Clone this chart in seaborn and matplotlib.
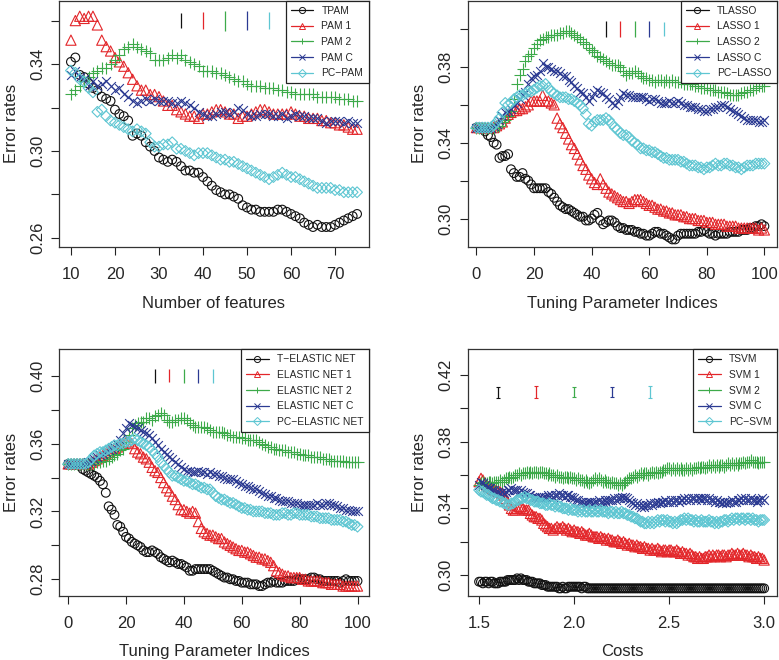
import numpy as np
import pandas as pd
import matplotlib
matplotlib.use('Agg')
import matplotlib.pyplot as plt
from matplotlib.lines import Line2D
import seaborn as sns

sns.set_theme(style='ticks')
plt.rcParams['font.family'] = ['Liberation Sans', 'DejaVu Sans']

COLORS = ['#111111', '#E3262A', '#3DAA4A', '#2B3A92', '#5EC6D2']
MARKERS = ['o', '^', '+', 'x', 'D']
MSIZE = [40, 54, 72, 40, 30]
OPEN = [True, True, False, False, True]

# ---------------- panel 1: PAM ----------------
pam_x = list(range(10, 76))
tpam = [0.341, 0.343, 0.335, 0.334, 0.331, 0.329, 0.328, 0.325, 0.324, 0.323,
        0.319, 0.317, 0.316, 0.314, 0.307, 0.308, 0.307, 0.304, 0.302, 0.300,
        0.297, 0.296, 0.295, 0.296, 0.295, 0.293, 0.291, 0.291, 0.290, 0.290,
        0.288, 0.286, 0.284, 0.282, 0.281, 0.280, 0.280, 0.279, 0.278, 0.275,
        0.274, 0.273, 0.273, 0.272, 0.272, 0.272, 0.272, 0.273, 0.273, 0.272,
        0.271, 0.270, 0.269, 0.267, 0.266, 0.265, 0.266, 0.265, 0.265, 0.265,
        0.266, 0.267, 0.268, 0.269, 0.270, 0.271]
pam1 = [0.351, 0.360, 0.362, 0.361, 0.362, 0.362, 0.358, 0.351, 0.348, 0.346,
        0.343, 0.341, 0.339, 0.336, 0.333, 0.330, 0.328, 0.328, 0.326, 0.326,
        0.325, 0.323, 0.321, 0.321, 0.319, 0.318, 0.317, 0.316, 0.316, 0.315,
        0.317, 0.317, 0.318, 0.319, 0.319, 0.318, 0.317, 0.317, 0.315, 0.316,
        0.316, 0.317, 0.318, 0.319, 0.319, 0.318, 0.317, 0.317, 0.317, 0.317,
        0.318, 0.317, 0.316, 0.316, 0.315, 0.315, 0.315, 0.314, 0.314, 0.313,
        0.313, 0.312, 0.312, 0.311, 0.310, 0.310]
pam2 = [0.326, 0.328, 0.330, 0.332, 0.334, 0.336, 0.337, 0.338, 0.338, 0.340,
        0.342, 0.344, 0.347, 0.348, 0.349, 0.348, 0.347, 0.346, 0.345, 0.342,
        0.342, 0.342, 0.343, 0.344, 0.343, 0.344, 0.342, 0.341, 0.340, 0.339,
        0.337, 0.337, 0.337, 0.336, 0.336, 0.335, 0.334, 0.333, 0.332, 0.332,
        0.331, 0.330, 0.330, 0.330, 0.329, 0.329, 0.329, 0.328, 0.328, 0.327,
        0.327, 0.326, 0.326, 0.326, 0.326, 0.326, 0.325, 0.325, 0.325, 0.325,
        0.325, 0.324, 0.324, 0.324, 0.323, 0.323]
pamc = [0.335, 0.337, 0.334, 0.333, 0.330, 0.332, 0.330, 0.331, 0.332, 0.330,
        0.328, 0.329, 0.326, 0.325, 0.323, 0.322, 0.323, 0.324, 0.323, 0.324,
        0.323, 0.323, 0.323, 0.322, 0.322, 0.323, 0.322, 0.321, 0.320, 0.318,
        0.317, 0.316, 0.316, 0.317, 0.318, 0.318, 0.317, 0.318, 0.320, 0.319,
        0.317, 0.316, 0.316, 0.317, 0.317, 0.317, 0.316, 0.316, 0.317, 0.315,
        0.316, 0.317, 0.316, 0.316, 0.315, 0.315, 0.315, 0.314, 0.313, 0.314,
        0.314, 0.314, 0.313, 0.314, 0.313, 0.313]
pcpam = [0.337, 0.336, 0.333, 0.332, 0.329, 0.327, 0.318, 0.319, 0.316, 0.314,
         0.313, 0.312, 0.311, 0.310, 0.309, 0.310, 0.309, 0.308, 0.304, 0.302,
         0.302, 0.303, 0.303, 0.304, 0.301, 0.301, 0.300, 0.299, 0.298, 0.299,
         0.299, 0.299, 0.298, 0.297, 0.296, 0.296, 0.295, 0.295, 0.294, 0.293,
         0.292, 0.291, 0.290, 0.289, 0.288, 0.287, 0.288, 0.289, 0.290, 0.289,
         0.288, 0.288, 0.287, 0.286, 0.285, 0.284, 0.283, 0.283, 0.283, 0.283,
         0.282, 0.282, 0.281, 0.281, 0.281, 0.281]
pam_labels = ['TPAM', 'PAM 1', 'PAM 2', 'PAM C', 'PC\u2212PAM']
pam_eb_x = [35, 40, 45, 50, 55]
pam_eb_y = [0.360, 0.360, 0.360, 0.360, 0.360]
pam_eb_half = [0.0036, 0.0040, 0.0046, 0.0042, 0.0038]

# ---------------- panel 2: LASSO ----------------
idx = list(range(0, 101))
tlasso = [0.348, 0.348, 0.348, 0.346, 0.344, 0.343, 0.340, 0.339, 0.332, 0.333,
          0.333, 0.334, 0.326, 0.324, 0.322, 0.322, 0.324, 0.321, 0.320, 0.318,
          0.316, 0.316, 0.316, 0.316, 0.316, 0.314, 0.313, 0.311, 0.309, 0.307,
          0.306, 0.305, 0.305, 0.304, 0.303, 0.302, 0.301, 0.301, 0.299, 0.299,
          0.300, 0.302, 0.303, 0.299, 0.297, 0.298, 0.299, 0.299, 0.298, 0.296,
          0.295, 0.295, 0.294, 0.294, 0.294, 0.293, 0.293, 0.292, 0.292, 0.291,
          0.291, 0.292, 0.293, 0.293, 0.292, 0.292, 0.291, 0.290, 0.289, 0.289,
          0.291, 0.292, 0.292, 0.292, 0.292, 0.292, 0.292, 0.293, 0.293, 0.294,
          0.293, 0.292, 0.292, 0.291, 0.292, 0.292, 0.292, 0.292, 0.293, 0.293,
          0.293, 0.293, 0.294, 0.294, 0.294, 0.295, 0.295, 0.296, 0.296, 0.297,
          0.296]
lasso1 = [0.348, 0.348, 0.348, 0.348, 0.348, 0.348, 0.348, 0.349, 0.350, 0.351,
          0.353, 0.355, 0.356, 0.357, 0.357, 0.358, 0.358, 0.359, 0.360, 0.362,
          0.362, 0.362, 0.362, 0.365, 0.362, 0.362, 0.361, 0.360, 0.353, 0.350,
          0.348, 0.345, 0.342, 0.339, 0.337, 0.334, 0.331, 0.328, 0.326, 0.323,
          0.321, 0.319, 0.318, 0.321, 0.318, 0.316, 0.314, 0.313, 0.312, 0.311,
          0.310, 0.309, 0.309, 0.308, 0.309, 0.310, 0.310, 0.310, 0.309, 0.308,
          0.307, 0.307, 0.306, 0.305, 0.305, 0.304, 0.304, 0.303, 0.303, 0.302,
          0.302, 0.302, 0.301, 0.301, 0.300, 0.300, 0.300, 0.299, 0.299, 0.299,
          0.298, 0.298, 0.298, 0.297, 0.297, 0.297, 0.297, 0.296, 0.296, 0.296,
          0.296, 0.295, 0.295, 0.295, 0.295, 0.295, 0.295, 0.295, 0.294, 0.295,
          0.294]
lasso2 = [0.348, 0.348, 0.348, 0.348, 0.348, 0.348, 0.348, 0.349, 0.349, 0.351,
          0.352, 0.354, 0.357, 0.363, 0.371, 0.376, 0.379, 0.383, 0.386, 0.387,
          0.390, 0.392, 0.394, 0.395, 0.396, 0.396, 0.397, 0.397, 0.397, 0.398,
          0.398, 0.399, 0.399, 0.398, 0.397, 0.396, 0.395, 0.393, 0.392, 0.390,
          0.389, 0.388, 0.386, 0.385, 0.384, 0.383, 0.382, 0.381, 0.381, 0.381,
          0.380, 0.378, 0.376, 0.377, 0.377, 0.378, 0.377, 0.375, 0.374, 0.374,
          0.373, 0.373, 0.372, 0.373, 0.373, 0.372, 0.373, 0.372, 0.373, 0.372,
          0.372, 0.372, 0.371, 0.371, 0.371, 0.371, 0.370, 0.370, 0.369, 0.369,
          0.369, 0.368, 0.368, 0.368, 0.367, 0.367, 0.367, 0.366, 0.365, 0.365,
          0.365, 0.365, 0.366, 0.367, 0.367, 0.368, 0.368, 0.369, 0.370, 0.370,
          0.370]
lassoc = [0.348, 0.348, 0.348, 0.348, 0.348, 0.348, 0.349, 0.350, 0.352, 0.354,
          0.356, 0.357, 0.358, 0.360, 0.361, 0.363, 0.365, 0.367, 0.371, 0.374,
          0.375, 0.376, 0.378, 0.382, 0.380, 0.380, 0.379, 0.378, 0.378, 0.377,
          0.375, 0.375, 0.373, 0.372, 0.370, 0.369, 0.367, 0.366, 0.364, 0.362,
          0.364, 0.366, 0.368, 0.367, 0.366, 0.364, 0.363, 0.361, 0.360, 0.362,
          0.364, 0.366, 0.365, 0.365, 0.364, 0.364, 0.364, 0.364, 0.364, 0.363,
          0.362, 0.363, 0.363, 0.362, 0.361, 0.361, 0.361, 0.362, 0.361, 0.361,
          0.362, 0.361, 0.360, 0.360, 0.359, 0.359, 0.359, 0.358, 0.358, 0.357,
          0.357, 0.358, 0.358, 0.359, 0.359, 0.360, 0.360, 0.359, 0.358, 0.357,
          0.356, 0.355, 0.354, 0.353, 0.352, 0.352, 0.352, 0.352, 0.351, 0.351,
          0.352]
pclasso = [0.348, 0.348, 0.348, 0.348, 0.348, 0.348, 0.349, 0.351, 0.353, 0.356,
           0.361, 0.360, 0.361, 0.363, 0.364, 0.365, 0.365, 0.366, 0.367, 0.367,
           0.368, 0.369, 0.370, 0.370, 0.371, 0.369, 0.367, 0.366, 0.365, 0.364,
           0.364, 0.364, 0.363, 0.363, 0.362, 0.361, 0.360, 0.358, 0.355, 0.350,
           0.349, 0.351, 0.352, 0.352, 0.352, 0.353, 0.352, 0.350, 0.348, 0.347,
           0.345, 0.344, 0.344, 0.343, 0.341, 0.340, 0.339, 0.337, 0.337, 0.336,
           0.336, 0.335, 0.335, 0.334, 0.333, 0.332, 0.332, 0.331, 0.331, 0.331,
           0.331, 0.330, 0.330, 0.329, 0.328, 0.328, 0.328, 0.327, 0.327, 0.326,
           0.327, 0.327, 0.328, 0.329, 0.328, 0.328, 0.329, 0.329, 0.328, 0.328,
           0.327, 0.327, 0.326, 0.327, 0.328, 0.328, 0.328, 0.329, 0.329, 0.329,
           0.329]
lasso_labels = ['TLASSO', 'LASSO 1', 'LASSO 2', 'LASSO C', 'PC\u2212LASSO']
lasso_eb_x = [45, 50, 55, 60, 65]
lasso_eb_y = [0.400, 0.400, 0.400, 0.400, 0.400]
lasso_eb_half = [0.0040, 0.0040, 0.0044, 0.0044, 0.0038]

# ---------------- panel 3: ELASTIC NET ----------------
ten = [0.348, 0.348, 0.348, 0.348, 0.347, 0.345, 0.344, 0.343, 0.342, 0.341,
       0.340, 0.338, 0.336, 0.331, 0.323, 0.321, 0.318, 0.312, 0.311, 0.308,
       0.305, 0.304, 0.302, 0.301, 0.300, 0.299, 0.297, 0.296, 0.296, 0.297,
       0.296, 0.295, 0.293, 0.292, 0.291, 0.290, 0.291, 0.290, 0.289, 0.289,
       0.288, 0.287, 0.285, 0.285, 0.286, 0.286, 0.286, 0.286, 0.286, 0.286,
       0.285, 0.284, 0.283, 0.282, 0.281, 0.281, 0.280, 0.280, 0.279, 0.279,
       0.278, 0.278, 0.278, 0.277, 0.277, 0.277, 0.276, 0.276, 0.277, 0.278,
       0.278, 0.279, 0.278, 0.278, 0.278, 0.279, 0.279, 0.279, 0.279, 0.280,
       0.280, 0.280, 0.280, 0.280, 0.281, 0.281, 0.280, 0.280, 0.279, 0.279,
       0.279, 0.279, 0.279, 0.279, 0.278, 0.279, 0.280, 0.279, 0.279, 0.279,
       0.279]
en1 = [0.348, 0.348, 0.348, 0.348, 0.348, 0.348, 0.348, 0.348, 0.349, 0.350,
       0.351, 0.352, 0.353, 0.354, 0.355, 0.356, 0.357, 0.358, 0.359, 0.360,
       0.361, 0.361, 0.360, 0.357, 0.355, 0.354, 0.352, 0.351, 0.349, 0.346,
       0.344, 0.343, 0.340, 0.337, 0.334, 0.332, 0.329, 0.327, 0.324, 0.321,
       0.321, 0.320, 0.319, 0.320, 0.319, 0.314, 0.310, 0.308, 0.307, 0.306,
       0.306, 0.305, 0.304, 0.304, 0.302, 0.301, 0.300, 0.299, 0.298, 0.297,
       0.297, 0.296, 0.296, 0.295, 0.294, 0.293, 0.293, 0.292, 0.292, 0.291,
       0.290, 0.288, 0.285, 0.284, 0.283, 0.282, 0.282, 0.281, 0.281, 0.281,
       0.281, 0.280, 0.280, 0.279, 0.279, 0.279, 0.279, 0.279, 0.278, 0.278,
       0.278, 0.277, 0.277, 0.277, 0.277, 0.276, 0.276, 0.276, 0.276, 0.276,
       0.276]
en2 = [0.348, 0.348, 0.348, 0.348, 0.348, 0.348, 0.348, 0.348, 0.348, 0.348,
       0.349, 0.349, 0.350, 0.350, 0.351, 0.352, 0.353, 0.354, 0.356, 0.357,
       0.361, 0.365, 0.369, 0.371, 0.372, 0.373, 0.373, 0.375, 0.375, 0.374,
       0.376, 0.377, 0.378, 0.377, 0.374, 0.373, 0.373, 0.374, 0.374, 0.375,
       0.375, 0.374, 0.372, 0.371, 0.370, 0.370, 0.370, 0.370, 0.369, 0.368,
       0.367, 0.367, 0.367, 0.367, 0.366, 0.365, 0.365, 0.364, 0.364, 0.364,
       0.363, 0.363, 0.362, 0.362, 0.362, 0.362, 0.361, 0.360, 0.359, 0.358,
       0.358, 0.357, 0.357, 0.356, 0.356, 0.356, 0.355, 0.355, 0.355, 0.354,
       0.354, 0.353, 0.353, 0.353, 0.352, 0.352, 0.352, 0.352, 0.351, 0.351,
       0.351, 0.350, 0.350, 0.350, 0.350, 0.350, 0.349, 0.349, 0.349, 0.349,
       0.349]
enc = [0.348, 0.348, 0.348, 0.348, 0.348, 0.348, 0.348, 0.349, 0.350, 0.351,
       0.352, 0.353, 0.354, 0.355, 0.356, 0.357, 0.358, 0.360, 0.362, 0.366,
       0.369, 0.372, 0.371, 0.370, 0.369, 0.368, 0.367, 0.366, 0.365, 0.363,
       0.361, 0.359, 0.357, 0.355, 0.354, 0.352, 0.351, 0.349, 0.348, 0.346,
       0.345, 0.344, 0.344, 0.343, 0.343, 0.344, 0.343, 0.343, 0.342, 0.343,
       0.342, 0.342, 0.341, 0.341, 0.340, 0.339, 0.339, 0.339, 0.338, 0.337,
       0.336, 0.335, 0.335, 0.334, 0.333, 0.333, 0.332, 0.331, 0.330, 0.329,
       0.329, 0.328, 0.328, 0.327, 0.326, 0.326, 0.326, 0.325, 0.325, 0.325,
       0.324, 0.324, 0.324, 0.324, 0.324, 0.324, 0.325, 0.324, 0.324, 0.325,
       0.325, 0.324, 0.324, 0.323, 0.322, 0.322, 0.321, 0.321, 0.320, 0.320,
       0.320]
pcen = [0.348, 0.348, 0.348, 0.348, 0.348, 0.348, 0.348, 0.349, 0.351, 0.353,
        0.354, 0.355, 0.355, 0.356, 0.357, 0.358, 0.359, 0.359, 0.360, 0.360,
        0.361, 0.361, 0.362, 0.363, 0.362, 0.361, 0.360, 0.359, 0.358, 0.356,
        0.354, 0.352, 0.349, 0.347, 0.345, 0.343, 0.341, 0.341, 0.340, 0.339,
        0.338, 0.338, 0.337, 0.336, 0.336, 0.335, 0.334, 0.334, 0.333, 0.333,
        0.331, 0.329, 0.328, 0.327, 0.327, 0.326, 0.325, 0.325, 0.324, 0.323,
        0.322, 0.322, 0.321, 0.321, 0.320, 0.320, 0.320, 0.320, 0.319, 0.319,
        0.319, 0.318, 0.318, 0.318, 0.319, 0.319, 0.318, 0.318, 0.319, 0.319,
        0.318, 0.318, 0.318, 0.318, 0.317, 0.317, 0.317, 0.316, 0.316, 0.316,
        0.316, 0.315, 0.315, 0.315, 0.315, 0.314, 0.314, 0.313, 0.312, 0.312,
        0.311]
en_labels = ['T\u2212ELASTIC NET', 'ELASTIC NET 1', 'ELASTIC NET 2',
             'ELASTIC NET C', 'PC\u2212ELASTIC NET']
en_eb_x = [30, 35, 40, 45, 50]
en_eb_y = [0.400, 0.400, 0.400, 0.400, 0.400]
en_eb_half = [0.0040, 0.0038, 0.0042, 0.0040, 0.0040]

# ---------------- panel 4: SVM ----------------
costs = [c / 100 for c in range(150, 301)]
tsvm = [0.296, 0.296, 0.295, 0.296, 0.296, 0.295, 0.296, 0.296, 0.295, 0.295,
        0.295, 0.296, 0.296, 0.296, 0.296, 0.297, 0.297, 0.297, 0.297, 0.297,
        0.298, 0.297, 0.298, 0.297, 0.297, 0.297, 0.296, 0.296, 0.296, 0.295,
        0.295, 0.295, 0.295, 0.294, 0.294, 0.294, 0.293, 0.293, 0.293, 0.293,
        0.293, 0.293, 0.292, 0.292, 0.293, 0.292, 0.292, 0.293, 0.293, 0.293,
        0.293, 0.293, 0.293, 0.293, 0.292, 0.293, 0.293, 0.292, 0.292, 0.292,
        0.292, 0.292, 0.292, 0.292, 0.292, 0.292, 0.292, 0.292, 0.292, 0.292,
        0.292, 0.292, 0.292, 0.292, 0.292, 0.292, 0.292, 0.292, 0.292, 0.292,
        0.292, 0.292, 0.292, 0.292, 0.292, 0.292, 0.292, 0.292, 0.292, 0.292,
        0.292, 0.292, 0.292, 0.292, 0.292, 0.292, 0.292, 0.292, 0.292, 0.292,
        0.292, 0.292, 0.292, 0.292, 0.292, 0.292, 0.292, 0.292, 0.292, 0.292,
        0.292, 0.292, 0.292, 0.292, 0.292, 0.292, 0.292, 0.292, 0.292, 0.292,
        0.292, 0.292, 0.292, 0.292, 0.292, 0.292, 0.292, 0.292, 0.292, 0.292,
        0.292, 0.292, 0.292, 0.292, 0.292, 0.292, 0.292, 0.292, 0.292, 0.292,
        0.292, 0.292, 0.292, 0.292, 0.292, 0.292, 0.292, 0.292, 0.292, 0.292,
        0.292]
svm1 = [0.356, 0.358, 0.357, 0.355, 0.354, 0.353, 0.353, 0.352, 0.351, 0.351,
        0.350, 0.350, 0.349, 0.348, 0.346, 0.344, 0.342, 0.340, 0.339, 0.339,
        0.340, 0.341, 0.341, 0.340, 0.339, 0.339, 0.339, 0.337, 0.336, 0.335,
        0.335, 0.334, 0.334, 0.333, 0.331, 0.330, 0.329, 0.328, 0.328, 0.327,
        0.328, 0.329, 0.328, 0.328, 0.329, 0.328, 0.327, 0.328, 0.327, 0.326,
        0.327, 0.326, 0.326, 0.325, 0.326, 0.325, 0.324, 0.324, 0.325, 0.324,
        0.323, 0.323, 0.323, 0.322, 0.323, 0.322, 0.322, 0.321, 0.322, 0.321,
        0.321, 0.320, 0.320, 0.321, 0.320, 0.319, 0.320, 0.319, 0.318, 0.319,
        0.318, 0.318, 0.317, 0.318, 0.317, 0.317, 0.316, 0.317, 0.316, 0.316,
        0.315, 0.316, 0.315, 0.315, 0.316, 0.315, 0.314, 0.315, 0.315, 0.314,
        0.315, 0.315, 0.314, 0.314, 0.315, 0.314, 0.313, 0.314, 0.313, 0.313,
        0.312, 0.313, 0.312, 0.311, 0.311, 0.310, 0.311, 0.310, 0.310, 0.311,
        0.311, 0.312, 0.311, 0.312, 0.311, 0.312, 0.312, 0.311, 0.312, 0.312,
        0.311, 0.312, 0.312, 0.313, 0.312, 0.312, 0.313, 0.312, 0.312, 0.313,
        0.312, 0.312, 0.311, 0.312, 0.311, 0.311, 0.310, 0.311, 0.310, 0.310,
        0.309]
svm2 = [0.354, 0.355, 0.356, 0.355, 0.355, 0.356, 0.356, 0.355, 0.356, 0.356,
        0.356, 0.357, 0.356, 0.357, 0.358, 0.358, 0.359, 0.358, 0.359, 0.360,
        0.360, 0.361, 0.360, 0.361, 0.361, 0.362, 0.361, 0.362, 0.361, 0.362,
        0.362, 0.361, 0.362, 0.362, 0.361, 0.361, 0.360, 0.361, 0.360, 0.360,
        0.359, 0.360, 0.359, 0.359, 0.358, 0.359, 0.359, 0.358, 0.359, 0.358,
        0.358, 0.357, 0.358, 0.357, 0.357, 0.356, 0.357, 0.356, 0.355, 0.356,
        0.357, 0.358, 0.357, 0.358, 0.357, 0.356, 0.357, 0.356, 0.356, 0.355,
        0.356, 0.355, 0.355, 0.354, 0.355, 0.354, 0.355, 0.356, 0.357, 0.358,
        0.358, 0.359, 0.360, 0.359, 0.360, 0.361, 0.360, 0.361, 0.361, 0.360,
        0.361, 0.362, 0.361, 0.362, 0.361, 0.362, 0.362, 0.363, 0.363, 0.364,
        0.364, 0.363, 0.364, 0.363, 0.364, 0.363, 0.364, 0.363, 0.363, 0.364,
        0.363, 0.364, 0.363, 0.364, 0.364, 0.365, 0.364, 0.365, 0.365, 0.364,
        0.365, 0.366, 0.365, 0.366, 0.365, 0.366, 0.365, 0.366, 0.366, 0.365,
        0.366, 0.367, 0.366, 0.367, 0.366, 0.367, 0.366, 0.367, 0.367, 0.368,
        0.367, 0.368, 0.368, 0.369, 0.368, 0.368, 0.368, 0.367, 0.368, 0.368,
        0.368]
svmc = [0.354, 0.356, 0.355, 0.354, 0.353, 0.352, 0.352, 0.351, 0.351, 0.350,
        0.350, 0.349, 0.350, 0.349, 0.350, 0.351, 0.351, 0.352, 0.351, 0.351,
        0.351, 0.350, 0.351, 0.350, 0.349, 0.349, 0.348, 0.348, 0.347, 0.347,
        0.347, 0.346, 0.347, 0.346, 0.347, 0.347, 0.348, 0.347, 0.348, 0.347,
        0.348, 0.348, 0.349, 0.348, 0.348, 0.347, 0.348, 0.348, 0.347, 0.347,
        0.346, 0.345, 0.345, 0.344, 0.344, 0.343, 0.344, 0.343, 0.344, 0.344,
        0.343, 0.344, 0.344, 0.345, 0.344, 0.344, 0.345, 0.344, 0.345, 0.345,
        0.345, 0.346, 0.345, 0.346, 0.346, 0.347, 0.346, 0.347, 0.346, 0.345,
        0.344, 0.343, 0.342, 0.343, 0.342, 0.341, 0.342, 0.341, 0.342, 0.342,
        0.343, 0.342, 0.343, 0.343, 0.344, 0.343, 0.344, 0.344, 0.345, 0.344,
        0.344, 0.345, 0.344, 0.345, 0.345, 0.344, 0.345, 0.345, 0.346, 0.345,
        0.346, 0.345, 0.346, 0.346, 0.345, 0.346, 0.346, 0.345, 0.346, 0.346,
        0.345, 0.346, 0.345, 0.345, 0.344, 0.345, 0.344, 0.344, 0.343, 0.344,
        0.343, 0.344, 0.344, 0.345, 0.344, 0.344, 0.345, 0.345, 0.346, 0.345,
        0.346, 0.345, 0.345, 0.346, 0.345, 0.345, 0.344, 0.345, 0.345, 0.346,
        0.345]
pcsvm = [0.351, 0.350, 0.350, 0.349, 0.348, 0.348, 0.347, 0.346, 0.346, 0.345,
         0.345, 0.344, 0.344, 0.343, 0.343, 0.342, 0.342, 0.343, 0.343, 0.344,
         0.345, 0.345, 0.346, 0.346, 0.347, 0.346, 0.346, 0.345, 0.345, 0.344,
         0.344, 0.344, 0.343, 0.343, 0.343, 0.342, 0.342, 0.343, 0.342, 0.342,
         0.341, 0.342, 0.341, 0.341, 0.340, 0.340, 0.340, 0.339, 0.340, 0.339,
         0.339, 0.339, 0.338, 0.339, 0.338, 0.339, 0.338, 0.338, 0.339, 0.338,
         0.338, 0.339, 0.338, 0.338, 0.339, 0.338, 0.338, 0.338, 0.337, 0.338,
         0.338, 0.337, 0.338, 0.337, 0.337, 0.338, 0.337, 0.337, 0.336, 0.336,
         0.335, 0.335, 0.334, 0.334, 0.333, 0.332, 0.332, 0.331, 0.331, 0.332,
         0.331, 0.332, 0.331, 0.332, 0.333, 0.332, 0.333, 0.333, 0.332, 0.333,
         0.332, 0.332, 0.331, 0.332, 0.331, 0.332, 0.333, 0.333, 0.334, 0.333,
         0.334, 0.333, 0.333, 0.332, 0.333, 0.332, 0.332, 0.333, 0.332, 0.332,
         0.332, 0.333, 0.332, 0.332, 0.331, 0.332, 0.331, 0.332, 0.332, 0.333,
         0.333, 0.332, 0.333, 0.334, 0.333, 0.334, 0.334, 0.333, 0.334, 0.334,
         0.333, 0.334, 0.334, 0.333, 0.334, 0.333, 0.333, 0.332, 0.333, 0.333,
         0.333]
svm_labels = ['TSVM', 'SVM 1', 'SVM 2', 'SVM C', 'PC\u2212SVM']
svm_eb_x = [1.6, 1.8, 2.0, 2.2, 2.4]
svm_eb_y = [0.4095, 0.4097, 0.4097, 0.4097, 0.4097]
svm_eb_half = [0.0035, 0.0037, 0.0028, 0.0028, 0.0037]


def draw_panel(ax, x, series, labels, eb_x, eb_y, eb_half, xlabel,
               xlim, ylim, xticks, xticklabels, yticks, ylabeled, capsize=0):
    for i, (vals, lab) in enumerate(zip(series, labels)):
        df = pd.DataFrame({'x': x, 'y': vals})
        face = 'none' if OPEN[i] else COLORS[i]
        sns.scatterplot(data=df, x='x', y='y', ax=ax, marker=MARKERS[i],
                        s=MSIZE[i], color=COLORS[i], facecolors=face,
                        edgecolor=COLORS[i], linewidths=0.8, legend=False,
                        zorder=3 + i)
    for i in range(5):
        ax.errorbar([eb_x[i]], [eb_y[i]], yerr=[eb_half[i]], fmt='none',
                    ecolor=COLORS[i], elinewidth=0.9, capsize=capsize,
                    capthick=0.8, zorder=10)
    ax.set_xlim(*xlim)
    ax.set_ylim(*ylim)
    ax.set_xticks(xticks, xticklabels)
    ax.set_yticks(yticks, [f'{t:.2f}' if t in ylabeled else '' for t in yticks])
    ax.tick_params(axis='y', labelrotation=90, length=5.8, width=0.8,
                   pad=4.5, labelsize=12, color='#222222')
    ax.tick_params(axis='x', length=5.8, width=0.8, pad=8.5, labelsize=12,
                   color='#222222')
    for lab in ax.get_yticklabels():
        lab.set_va('center')
    for sp in ax.spines.values():
        sp.set_visible(True)
        sp.set_color('#333333')
        sp.set_linewidth(0.9)
    ax.set_xlabel(xlabel, fontsize=12, labelpad=10)
    ax.set_ylabel('Error rates', fontsize=12, labelpad=8)
    handles = [Line2D([0], [0], color=COLORS[i], marker=MARKERS[i], lw=0.9,
                      markersize=4.4,
                      markerfacecolor='none' if OPEN[i] else COLORS[i],
                      markeredgecolor=COLORS[i], markeredgewidth=0.7)
               for i in range(5)]
    leg = ax.legend(handles, labels, loc='upper right', bbox_to_anchor=(1, 1),
                    borderaxespad=0, fontsize=7.4, frameon=True, fancybox=False,
                    framealpha=1, edgecolor='#222222', handlelength=2.2,
                    handletextpad=0.8, labelspacing=0.55, borderpad=0.5)
    leg.get_frame().set_linewidth(0.9)
    leg.set_zorder(20)


fig = plt.figure(figsize=(7.79, 6.6), dpi=100)
W, H = 779, 660
colw = 309 / W
rowh = 246.4 / H
ax1 = fig.add_axes([59.5 / W, (H - 247) / H, colw, rowh])
ax2 = fig.add_axes([467.5 / W, (H - 247) / H, colw, rowh])
ax3 = fig.add_axes([59.5 / W, (H - 595.7) / H, colw, rowh])
ax4 = fig.add_axes([467.5 / W, (H - 595.7) / H, colw, rowh])

draw_panel(ax1, pam_x, [tpam, pam1, pam2, pamc, pcpam], pam_labels,
           pam_eb_x, pam_eb_y, pam_eb_half, 'Number of features',
           (7.4, 77.6), (0.2558, 0.3692), [10, 20, 30, 40, 50, 60, 70],
           ['10', '20', '30', '40', '50', '60', '70'],
           [0.26, 0.28, 0.30, 0.32, 0.34, 0.36], [0.26, 0.30, 0.34])

draw_panel(ax2, idx, [tlasso, lasso1, lasso2, lassoc, pclasso], lasso_labels,
           lasso_eb_x, lasso_eb_y, lasso_eb_half, 'Tuning Parameter Indices',
           (-3.1, 104.2), (0.285, 0.415), [0, 20, 40, 60, 80, 100],
           ['0', '20', '40', '60', '80', '100'],
           [0.30, 0.32, 0.34, 0.36, 0.38, 0.40], [0.30, 0.34, 0.38])

draw_panel(ax3, idx, [ten, en1, en2, enc, pcen], en_labels,
           en_eb_x, en_eb_y, en_eb_half, 'Tuning Parameter Indices',
           (-3.0, 103.8), (0.2703, 0.4156), [0, 20, 40, 60, 80, 100],
           ['0', '20', '40', '60', '80', '100'],
           [0.28, 0.30, 0.32, 0.34, 0.36, 0.38, 0.40], [0.28, 0.32, 0.36, 0.40])

draw_panel(ax4, costs, [tsvm, svm1, svm2, svmc, pcsvm], svm_labels,
           svm_eb_x, svm_eb_y, svm_eb_half, 'Costs',
           (1.439, 3.065), (0.2876, 0.4354), [1.5, 2.0, 2.5, 3.0],
           ['1.5', '2.0', '2.5', '3.0'],
           [0.30, 0.32, 0.34, 0.36, 0.38, 0.40, 0.42], [0.30, 0.34, 0.38, 0.42],
           capsize=1.5)

fig.savefig('out.png', dpi=100)
